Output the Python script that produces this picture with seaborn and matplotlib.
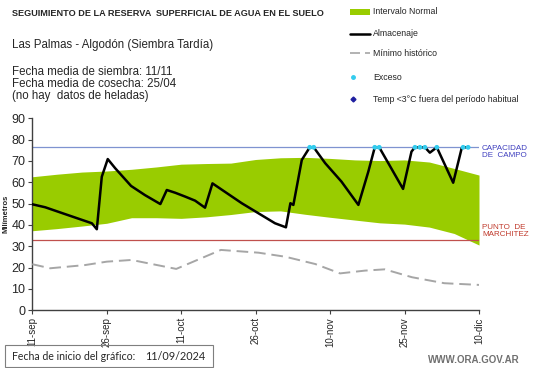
import numpy as np
import pandas as pd
import seaborn as sns
import matplotlib.pyplot as plt
from matplotlib.lines import Line2D
from matplotlib.patches import Rectangle

# days since 11-sep-2024
band_days = [0, 5, 10, 15, 20, 25, 30, 35, 40, 45, 50, 55, 60, 65, 70, 75, 80, 85, 90]
band_hi = [62.6, 63.8, 64.8, 65.3, 66.1, 67.2, 68.5, 68.8, 69.0, 70.7, 71.5, 71.7,
           71.2, 70.5, 70.2, 70.5, 69.5, 66.5, 63.4]
band_lo = [37.3, 38.3, 39.5, 40.8, 43.4, 43.4, 43.1, 43.8, 44.9, 46.3, 46.6, 45.0,
           43.6, 42.3, 41.0, 40.4, 39.0, 36.0, 30.6]

min_days = [0, 3.6, 10.6, 15, 20, 29, 38, 45.6, 51, 57, 62, 67, 71, 76.5, 83, 90]
min_vals = [21.6, 19.7, 21.2, 22.8, 23.6, 19.4, 28.3, 27.0, 25.1, 21.7, 17.3, 18.6,
            19.2, 15.5, 12.7, 11.9]

alm_days = [0, 2.6, 6.6, 12, 13, 14, 15.2, 16.7, 19.9, 22.7, 25.8, 27.1, 28.8, 30.8,
            32.8, 34.8, 36.3, 42.2, 48.9, 51.1, 52, 52.6, 54.3, 55.9, 56.7, 59,
            62.3, 65.7, 67.7, 69.0, 69.9, 74.7, 76.4, 77.1, 78.1, 79.1, 80.1, 81.5,
            84.8, 86.5, 86.8, 87.8]
alm_vals = [49.7, 48.3, 45.1, 40.8, 38.0, 62.6, 70.9, 66.6, 58.3, 54.0, 49.8, 56.4,
            55.1, 53.3, 51.4, 48.1, 59.5, 50.2, 40.8, 38.9, 50.2, 49.4, 70.5, 76.4,
            76.4, 69.0, 60.3, 49.4, 65.0, 76.4, 76.4, 56.9, 74.4, 76.4, 76.4, 76.4,
            73.9, 76.4, 59.8, 75.9, 76.4, 76.4]

exc_days = [55.9, 56.7, 69.0, 69.9, 77.1, 78.1, 79.1, 81.5, 86.8, 87.8]
exc_vals = [76.4] * len(exc_days)

cap_campo = 76.4
marchitez = 32.8

tick_days = [0, 15, 30, 45, 60, 75, 90]
tick_labels = ['11-sep', '26-sep', '11-oct', '26-oct', '10-nov', '25-nov', '10-dic']

sns.set_style('white')
plt.rcParams['font.family'] = ['Liberation Sans', 'DejaVu Sans']

fig = plt.figure(figsize=(5.41, 3.68), dpi=100)
ax = fig.add_axes([0.0597, 0.1568, 0.8257, 0.5217])

green = '#99CC00'
ax.fill_between(band_days, band_lo, band_hi, color=green, lw=0, zorder=1)
ax.axhline(cap_campo, color='#7F93D0', lw=0.9, zorder=2)
ax.axhline(marchitez, color='#C0504D', lw=0.9, zorder=2)

# minimo historico (dashed)
mn = pd.DataFrame({'dia': min_days, 'mm': min_vals})
sns.lineplot(data=mn, x='dia', y='mm', ax=ax, color='#A6A6A6', lw=1.4,
             linestyle=(0, (6, 3)), zorder=3)

# almacenaje
alm = pd.DataFrame({'dia': alm_days, 'mm': alm_vals})
sns.lineplot(data=alm, x='dia', y='mm', ax=ax, color='black', lw=1.8, zorder=4)
sns.scatterplot(x=exc_days, y=exc_vals, ax=ax, color='#33CCEE', s=12,
                edgecolor='none', zorder=5)

ax.set_xlim(0, 90)
ax.set_ylim(0, 90)
ax.set_xticks(tick_days)
ax.set_xticklabels(tick_labels, rotation=90, fontsize=7)
ax.set_yticks(range(0, 91, 10))
ax.tick_params(axis='y', labelsize=9, length=3, width=0.8, color='#404040', pad=2)
ax.tick_params(axis='x', length=3, width=0.8, color='#404040', pad=2)
ax.tick_params(left=True, bottom=True)
for s in ['top', 'right']:
    ax.spines[s].set_visible(False)
for s in ['left', 'bottom']:
    ax.spines[s].set_color('#404040')
    ax.spines[s].set_linewidth(1.0)
ax.set_xlabel('')
ax.set_ylabel('Milímetros', fontsize=5.5, fontweight='bold', labelpad=1)

# texts at top
fig.text(12/541, 1-14/368, 'SEGUIMIENTO DE LA RESERVA  SUPERFICIAL DE AGUA EN EL SUELO',
         fontsize=6.6, fontweight='bold', va='center')
fig.text(12/541, 1-45/368, 'Las Palmas - Algodón (Siembra Tardía)', fontsize=8.3, va='center')
fig.text(12/541, 1-84/368,
         'Fecha media de siembra: 11/11\nFecha media de cosecha: 25/04\n(no hay  datos de heladas)',
         fontsize=8.3, va='center', linespacing=1.0)

# legend
lx0, lx1, tx = 350/541, 370/541, 373/541
fig.patches.append(Rectangle((lx0, 1-15/368), lx1-lx0, 6/368, transform=fig.transFigure,
                             color=green, lw=0))
fig.text(tx, 1-12/368, 'Intervalo Normal', fontsize=6.3, va='center')
fig.lines.append(Line2D([lx0, lx1], [1-34/368]*2, transform=fig.transFigure,
                        color='black', lw=1.8))
fig.text(tx, 1-34/368, 'Almacenaje', fontsize=6.3, va='center')
fig.lines.append(Line2D([lx0, lx1], [1-53/368]*2, transform=fig.transFigure,
                        color='#A6A6A6', lw=1.2, dashes=(6, 3)))
fig.text(tx, 1-53/368, 'Mínimo histórico', fontsize=6.3, va='center')
fig.lines.append(Line2D([353/541], [1-77/368], transform=fig.transFigure, marker='o',
                        ms=2.5, color='#33CCEE', lw=0))
fig.text(tx, 1-77/368, 'Exceso', fontsize=6.3, va='center')
fig.lines.append(Line2D([353/541], [1-99/368], transform=fig.transFigure, marker='D',
                        ms=2.5, color='#1F1FA0', lw=0))
fig.text(tx, 1-99/368, 'Temp <3°C fuera del período habitual', fontsize=6.3, va='center')

# reference labels
fig.text(482/541, 1-152/368, 'CAPACIDAD\nDE  CAMPO', fontsize=5.8, color='#3F3FBF',
         va='center', linespacing=1.0)
fig.text(482/541, 1-231/368, 'PUNTO  DE\nMARCHITEZ', fontsize=5.8, color='#C0392B',
         va='center', linespacing=1.0)

# start date box
fig.patches.append(Rectangle((5/541, 1-367/368), 208/541, 22/368, transform=fig.transFigure,
                             fill=False, edgecolor='#7F7F7F', lw=0.8))
fig.text(12/541, 1-356/368, 'Fecha de inicio del gráfico:', fontsize=7.6,
         family=['Lato', 'DejaVu Sans'], va='center')
fig.text(145/541, 1-356/368, '11/09/2024', fontsize=7.8,
         family=['Lato', 'DejaVu Sans'], va='center')

fig.text(520/541, 1-360/368, 'WWW.ORA.GOV.AR', fontsize=7, fontweight='bold',
         color='#707070', ha='right', va='center')

fig.savefig('out.png', dpi=100)
